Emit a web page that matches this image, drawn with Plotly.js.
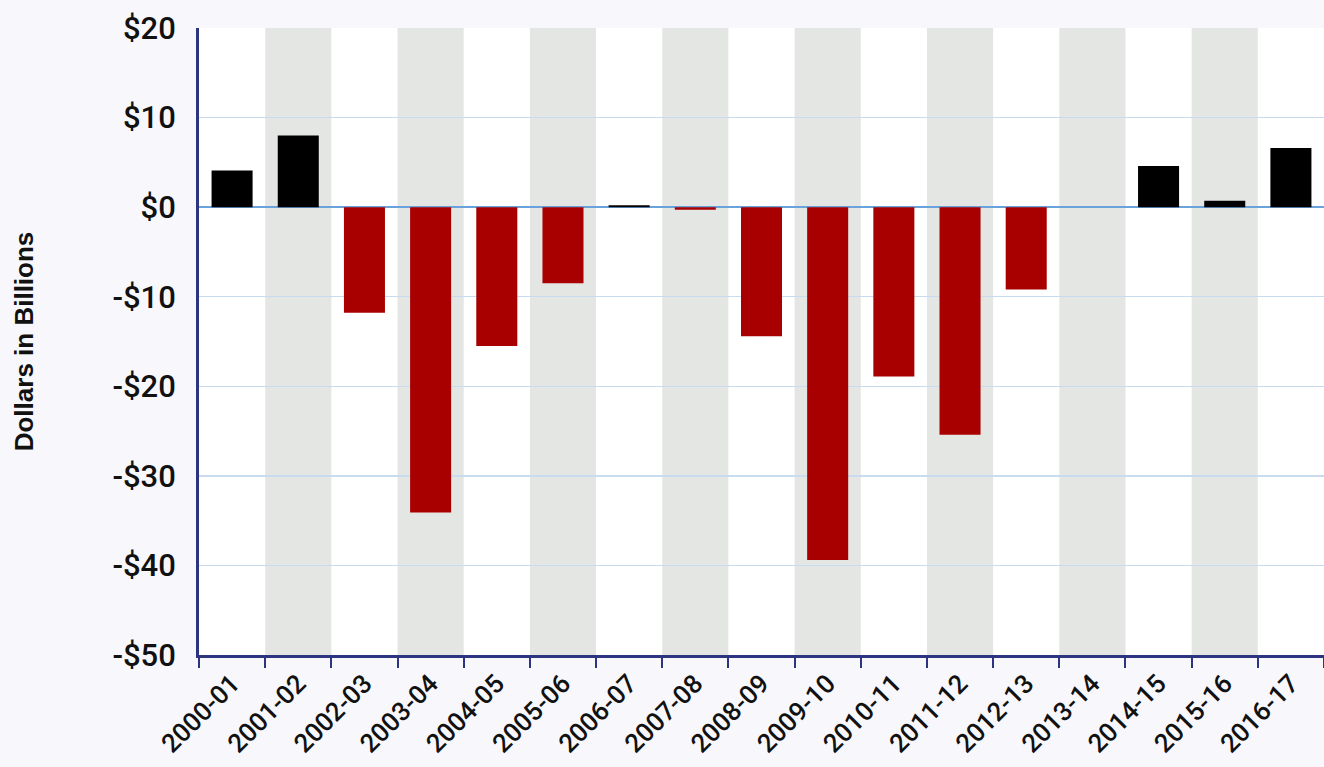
<!DOCTYPE html>
<html>
<head>
<meta charset="utf-8">
<script src="https://cdn.plot.ly/plotly-3.0.1.min.js"></script>
<style>html,body{margin:0;padding:0;background:#f8f8fc;}#chart{width:1324px;height:767px;}</style>
</head>
<body>
<div id="chart"></div>
<script>
const categories = ["2000-01","2001-02","2002-03","2003-04","2004-05","2005-06","2006-07","2007-08","2008-09","2009-10","2010-11","2011-12","2012-13","2013-14","2014-15","2015-16","2016-17"];
const values = [4.1, 8.0, -11.8, -34.1, -15.5, -8.5, 0.2, -0.3, -14.4, -39.4, -18.9, -25.4, -9.2, 0, 4.6, 0.7, 6.6];
const yTickVals = [20, 10, 0, -10, -20, -30, -40, -50];
const yTickText = ["$20", "$10", "$0", "-$10", "-$20", "-$30", "-$40", "-$50"];

const barColors = values.map(v => v < 0 ? "#a80000" : "#000000");

const shapes = [];
categories.forEach((c, i) => {
  if (i % 2 === 1) {
    shapes.push({type: "rect", xref: "x", yref: "paper", x0: i - 0.5, x1: i + 0.5, y0: 0, y1: 1,
      fillcolor: "#e4e6e4", line: {width: 0}, layer: "below"});
  }
});

const trace = {
  type: "bar", x: categories, y: values,
  marker: {color: barColors, line: {width: 0}},
  width: 0.62, hoverinfo: "x+y"
};

const layout = {
  width: 1324, height: 767,
  paper_bgcolor: "#f8f8fc", plot_bgcolor: "#ffffff",
  margin: {l: 199, r: 0, t: 28, b: 112},
  showlegend: false,
  shapes: shapes,
  font: {family: "Roboto, 'Liberation Sans', sans-serif", color: "#111"},
  xaxis: {
    type: "category", range: [-0.5, categories.length - 0.5],
    tickangle: -45, tickson: "boundaries", ticks: "outside", ticklen: 10, tickwidth: 2, tickcolor: "#2e3580",
    showline: true, linecolor: "#2e3580", linewidth: 3, showgrid: false,
    tickfont: {size: 26, family: "Roboto, 'Liberation Sans', sans-serif", weight: 500, color: "#111"}
  },
  yaxis: {
    range: [-50, 20], tickvals: yTickVals, ticktext: yTickText,
    showline: true, linecolor: "#2e3580", linewidth: 3, ticks: "",
    ticklabelstandoff: 14,
    gridcolor: "#c9dcef", gridwidth: 1.5,
    zeroline: true, zerolinecolor: "#6aa2dc", zerolinewidth: 2.5,
    tickfont: {size: 31, family: "Roboto, 'Liberation Sans', sans-serif", weight: 500, color: "#111"},
    title: {text: "Dollars in Billions", standoff: 72, font: {size: 26, family: "'Liberation Sans', Arial, sans-serif", weight: "bold", color: "#111"}}
  }
};

Plotly.newPlot("chart", [trace], layout, {displayModeBar: false, staticPlot: true});
</script>
</body>
</html>
